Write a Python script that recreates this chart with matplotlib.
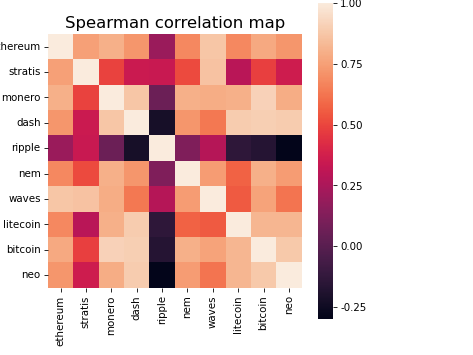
import matplotlib
matplotlib.use('Agg')
import matplotlib.pyplot as plt
import numpy as np
import pandas as pd
import seaborn as sns

coins = ['ethereum', 'stratis', 'monero', 'dash', 'ripple',
         'nem', 'waves', 'litecoin', 'bitcoin', 'neo']

# Spearman correlations (symmetric)
ethereum = [1.00, 0.75, 0.80, 0.72, 0.20, 0.68, 0.87, 0.68, 0.78, 0.72]
stratis  = [0.75, 1.00, 0.49, 0.35, 0.34, 0.51, 0.86, 0.29, 0.48, 0.36]
monero   = [0.80, 0.49, 1.00, 0.87, 0.06, 0.80, 0.79, 0.80, 0.91, 0.79]
dash     = [0.72, 0.35, 0.87, 1.00, -0.22, 0.72, 0.63, 0.89, 0.90, 0.89]
ripple   = [0.20, 0.34, 0.06, -0.22, 1.00, 0.12, 0.28, -0.14, -0.17, -0.30]
nem      = [0.68, 0.51, 0.80, 0.72, 0.12, 1.00, 0.74, 0.57, 0.80, 0.74]
waves    = [0.87, 0.86, 0.79, 0.63, 0.28, 0.74, 1.00, 0.55, 0.76, 0.62]
litecoin = [0.68, 0.29, 0.80, 0.89, -0.14, 0.57, 0.55, 1.00, 0.82, 0.82]
bitcoin  = [0.78, 0.48, 0.91, 0.90, -0.17, 0.80, 0.76, 0.82, 1.00, 0.88]
neo      = [0.72, 0.36, 0.79, 0.89, -0.30, 0.74, 0.62, 0.82, 0.88, 1.00]

cbar_ticks = [-0.25, 0.00, 0.25, 0.50, 0.75, 1.00]

corr = pd.DataFrame([ethereum, stratis, monero, dash, ripple,
                     nem, waves, litecoin, bitcoin, neo],
                    index=coins, columns=coins)

fig = plt.figure(figsize=(6.4, 4.8), dpi=74)
ax = fig.add_axes([0.101, 0.189, 0.536, 0.715])
cax = fig.add_axes([0.671, 0.101, 0.032, 0.890])

sns.heatmap(corr, ax=ax, cbar_ax=cax,
            cbar_kws={'ticks': cbar_ticks, 'format': '%.2f'})
ax.set_title('Spearman correlation map', fontsize=16)
ax.tick_params(labelsize=10)
cax.tick_params(labelsize=10)

fig.savefig('out.png', dpi=74)
